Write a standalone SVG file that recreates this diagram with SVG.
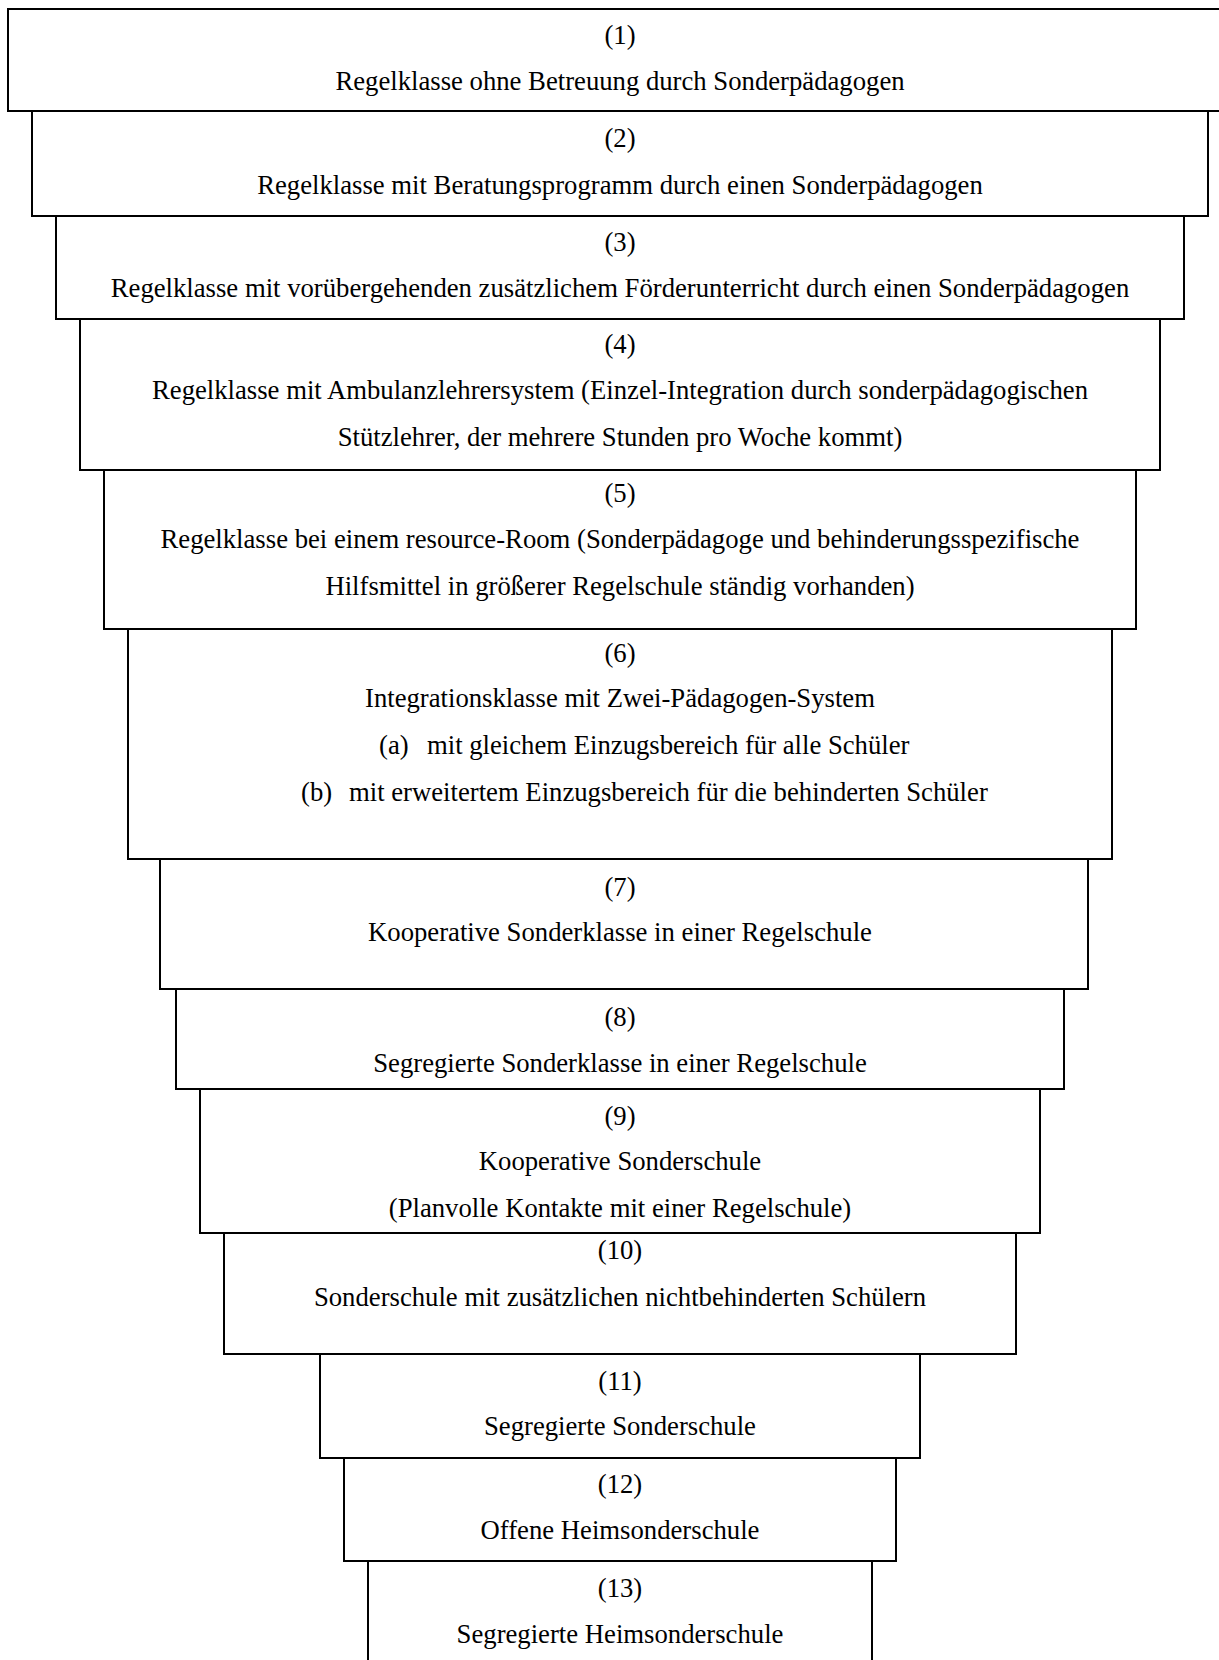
<svg xmlns="http://www.w3.org/2000/svg" width="1219" height="1660" viewBox="0 0 1219 1660">
<style>
rect.b{fill:#fff;stroke:#000;stroke-width:2}
text{font-family:"Liberation Serif","Times New Roman",serif;font-size:26.7px;fill:#000}
text.c{text-anchor:middle}
</style>
<rect width="1219" height="1660" fill="#fff"/>
<g id="connectors"></g>
<g id="n1"><rect class="b" x="8" y="9" width="1224" height="102"/><text class="c" x="620" y="44">(1)</text><text class="c" x="620" y="90">Regelklasse ohne Betreuung durch Sonderpädagogen</text></g>
<g id="n2"><rect class="b" x="32" y="111" width="1176" height="105"/><text class="c" x="620" y="147">(2)</text><text class="c" x="620" y="194">Regelklasse mit Beratungsprogramm durch einen Sonderpädagogen</text></g>
<g id="n3"><rect class="b" x="56" y="216" width="1128" height="103"/><text class="c" x="620" y="251">(3)</text><text class="c" x="620" y="297">Regelklasse mit vorübergehenden zusätzlichem Förderunterricht durch einen Sonderpädagogen</text></g>
<g id="n4"><rect class="b" x="80" y="319" width="1080" height="151"/><text class="c" x="620" y="353">(4)</text><text class="c" x="620" y="399">Regelklasse mit Ambulanzlehrersystem (Einzel-Integration durch sonderpädagogischen</text><text class="c" x="620" y="446">Stützlehrer, der mehrere Stunden pro Woche kommt)</text></g>
<g id="n5"><rect class="b" x="104" y="470" width="1032" height="159"/><text class="c" x="620" y="502">(5)</text><text class="c" x="620" y="548">Regelklasse bei einem resource-Room (Sonderpädagoge und behinderungsspezifische</text><text class="c" x="620" y="595">Hilfsmittel in größerer Regelschule ständig vorhanden)</text></g>
<g id="n6"><rect class="b" x="128" y="629" width="984" height="230"/><text class="c" x="620" y="662">(6)</text><text class="c" x="620" y="707">Integrationsklasse mit Zwei-Pädagogen-System</text><text x="379" y="754">(a)</text><text x="427" y="754">mit gleichem Einzugsbereich für alle Schüler</text><text x="301" y="801">(b)</text><text x="349" y="801">mit erweitertem Einzugsbereich für die behinderten Schüler</text></g>
<g id="n7"><rect class="b" x="160" y="859" width="928" height="130"/><text class="c" x="620" y="896">(7)</text><text class="c" x="620" y="941">Kooperative Sonderklasse in einer Regelschule</text></g>
<g id="n8"><rect class="b" x="176" y="989" width="888" height="100"/><text class="c" x="620" y="1026">(8)</text><text class="c" x="620" y="1072">Segregierte Sonderklasse in einer Regelschule</text></g>
<g id="n9"><rect class="b" x="200" y="1089" width="840" height="144"/><text class="c" x="620" y="1125">(9)</text><text class="c" x="620" y="1170">Kooperative Sonderschule</text><text class="c" x="620" y="1217">(Planvolle Kontakte mit einer Regelschule)</text></g>
<g id="n10"><rect class="b" x="224" y="1233" width="792" height="121"/><text class="c" x="620" y="1259">(10)</text><text class="c" x="620" y="1306">Sonderschule mit zusätzlichen nichtbehinderten Schülern</text></g>
<g id="n11"><rect class="b" x="320" y="1354" width="600" height="104"/><text class="c" x="620" y="1390">(11)</text><text class="c" x="620" y="1435">Segregierte Sonderschule</text></g>
<g id="n12"><rect class="b" x="344" y="1458" width="552" height="103"/><text class="c" x="620" y="1493">(12)</text><text class="c" x="620" y="1539">Offene Heimsonderschule</text></g>
<g id="n13"><rect class="b" x="368" y="1561" width="504" height="110"/><text class="c" x="620" y="1597">(13)</text><text class="c" x="620" y="1643">Segregierte Heimsonderschule</text></g>
</svg>
